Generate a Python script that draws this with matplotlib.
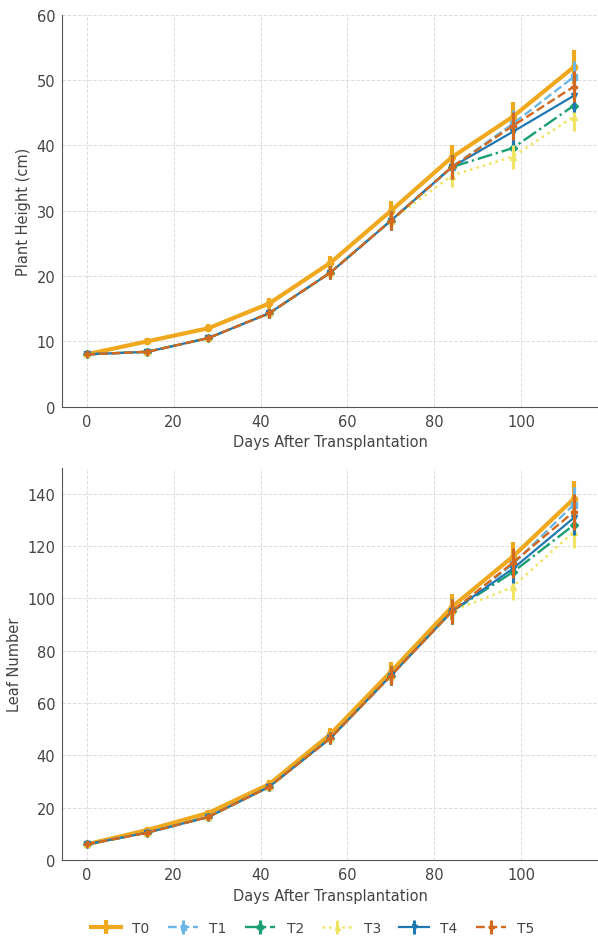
import matplotlib
matplotlib.use("Agg")
from matplotlib import pyplot as plt

days = [0, 14, 28, 42, 56, 70, 84, 98, 112]
labels = ["T0", "T1", "T2", "T3", "T4", "T5"]
colors = ["#F0A81E", "#6CB6E6", "#1A9E74", "#F2E463", "#1F77B4", "#D2691E"]
styles = ["-", "--", "-.", ":", "-", "--"]
markers = ["o", "s", "D", "^", "v", "P"]
widths = [3.0, 1.7, 1.7, 1.8, 1.6, 1.7]

height = [
    [8.0, 10.0, 12.0, 15.8, 22.0, 30.0, 38.2, 44.4, 52.0],
    [8.0, 8.4, 10.5, 14.3, 20.5, 28.5, 36.7, 43.3, 50.5],
    [8.0, 8.4, 10.5, 14.3, 20.5, 28.5, 36.7, 39.6, 46.1],
    [8.0, 8.4, 10.5, 14.3, 20.5, 28.5, 35.4, 38.3, 44.4],
    [8.0, 8.4, 10.5, 14.3, 20.5, 28.5, 36.7, 42.1, 47.6],
    [8.0, 8.4, 10.5, 14.3, 20.5, 28.5, 36.7, 43.0, 49.0],
]
height_err = [
    [0.4, 0.5, 0.6, 0.8, 1.1, 1.5, 1.9, 2.2, 2.6],
    [0.4, 0.4, 0.5, 0.7, 1.0, 1.4, 1.8, 2.2, 2.5],
    [0.4, 0.4, 0.5, 0.7, 1.0, 1.4, 1.8, 2.0, 2.3],
    [0.4, 0.4, 0.5, 0.7, 1.0, 1.4, 1.8, 1.9, 2.2],
    [0.4, 0.4, 0.5, 0.7, 1.0, 1.4, 1.8, 2.1, 2.4],
    [0.4, 0.4, 0.5, 0.7, 1.0, 1.4, 1.8, 2.1, 2.4],
]
leaves = [
    [6.0, 11.5, 18.0, 29.0, 48.0, 72.0, 96.7, 115.9, 138.0],
    [6.0, 10.5, 16.5, 28.0, 46.5, 70.5, 95.0, 113.0, 135.8],
    [6.0, 10.5, 16.5, 28.0, 46.5, 70.5, 95.0, 110.0, 128.0],
    [6.0, 10.5, 16.5, 28.0, 46.5, 70.5, 95.0, 104.4, 125.4],
    [6.0, 10.5, 16.5, 28.0, 46.5, 70.5, 95.0, 111.3, 130.7],
    [6.0, 10.5, 16.5, 28.0, 46.5, 70.5, 95.0, 113.6, 133.0],
]
leaves_err = [
    [0.3, 0.6, 0.9, 1.5, 2.4, 3.6, 4.8, 5.8, 6.9],
    [0.3, 0.5, 0.8, 1.4, 2.3, 3.5, 4.8, 5.7, 6.8],
    [0.3, 0.5, 0.8, 1.4, 2.3, 3.5, 4.8, 5.5, 6.4],
    [0.3, 0.5, 0.8, 1.4, 2.3, 3.5, 4.8, 5.2, 6.3],
    [0.3, 0.5, 0.8, 1.4, 2.3, 3.5, 4.8, 5.6, 6.5],
    [0.3, 0.5, 0.8, 1.4, 2.3, 3.5, 4.8, 5.7, 6.7],
]

text_col = "#444444"
plt.rcParams["font.family"] = ["DejaVu Sans"]
plt.rcParams["font.size"] = 10

fig = plt.figure(figsize=(5.98, 9.37), dpi=100)
ax1 = fig.add_axes([0.104, 0.565, 0.896, 0.418])
ax2 = fig.add_axes([0.104, 0.081, 0.896, 0.419])


def draw(ax, values, errs, ylabel, ylim):
    handles = []
    for i in range(len(labels)):
        h = ax.errorbar(days, values[i], yerr=errs[i], color=colors[i],
                        linestyle=styles[i], marker=markers[i], markersize=4.5,
                        linewidth=widths[i], elinewidth=3 if i == 0 else 2.2,
                        capsize=0, label=labels[i], zorder=2 + i)
        handles.append(h)
    ax.set_ylim(*ylim)
    ax.set_xlim(-5.6, 117.6)
    ax.set_xticks([0, 20, 40, 60, 80, 100])
    ax.set_xlabel("Days After Transplantation", color=text_col, fontsize=10.5)
    ax.set_ylabel(ylabel, color=text_col, fontsize=10.5)
    ax.grid(True, linestyle="--", color="#dddddd", linewidth=0.7)
    ax.set_axisbelow(True)
    for s in ["top", "right"]:
        ax.spines[s].set_visible(False)
    for s in ["left", "bottom"]:
        ax.spines[s].set_color("#555555")
    ax.tick_params(colors=text_col, labelsize=10.5, length=0, pad=5)
    return handles


draw(ax1, height, height_err, "Plant Height (cm)", (0, 60))
ax1.set_yticks([0, 10, 20, 30, 40, 50, 60])
handles = draw(ax2, leaves, leaves_err, "Leaf Number", (0, 150))
ax2.set_yticks([0, 20, 40, 60, 80, 100, 120, 140])

leg = fig.legend(handles, labels, loc="center", bbox_to_anchor=(0.523, 0.009),
                 ncol=6, frameon=False, fontsize=10, handlelength=2.2,
                 columnspacing=1.3, markerscale=0.8)
for t in leg.get_texts():
    t.set_color(text_col)

fig.savefig("out.png", dpi=100)
